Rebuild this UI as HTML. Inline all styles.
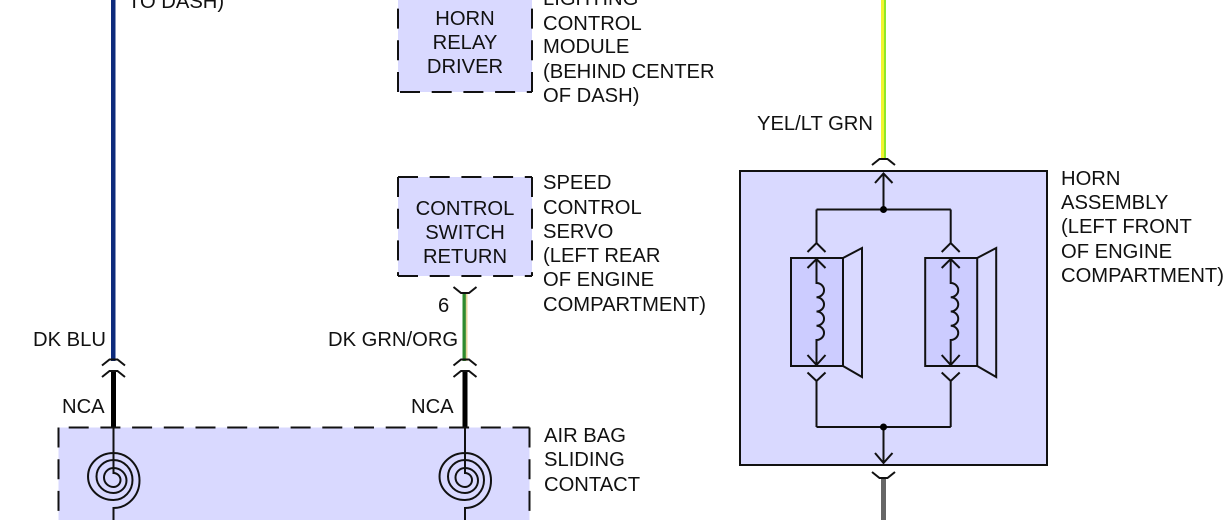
<!DOCTYPE html>
<html><head><meta charset="utf-8"><style>
html,body{margin:0;padding:0;background:#fff;width:1227px;height:520px;overflow:hidden}
svg{display:block}
text{font-family:"Liberation Sans",Arial,sans-serif;font-size:20.2px;fill:#111}
.m{text-anchor:middle}
.l{fill:none;stroke:#111;stroke-width:2}
.d{fill:#d9d9ff;stroke:none}
.e{fill:none;stroke:#111;stroke-width:2;stroke-dasharray:20 11.700}
</style></head><body>
<svg width="1227" height="520" viewBox="0 0 1227 520" xmlns="http://www.w3.org/2000/svg">
<defs>
<g id="c"><path class="l" d="M-11.500 6L-4 0H4L11.500 6"/></g>
<g id="spiral"><path class="l" d="M113.500 427V473A7 7 0 0 1 113.500 487A9.500 9.500 0 0 1 113.500 468A13 12.500 0 0 1 113.500 493A17 16.500 0 0 1 113.500 460A19 20 0 0 1 113.500 500A25.500 23.500 0 0 1 113.500 453A26 27.500 0 0 1 113.500 508V520"/></g>
<g id="spk">
<rect x="791" y="258" width="52" height="108" fill="#ccccff" stroke="#111" stroke-width="2"/>
<path class="l" d="M843 258L862 248V377L843 366"/>
<path class="l" d="M816.500 259V283a7.500 7.100 0 0 1 0 14.250a7.500 7.100 0 0 1 0 14.250a7.500 7.100 0 0 1 0 14.250a7.500 7.100 0 0 1 0 14.250V365M816.500 380V427M816.500 209.500V243M807.500 252L816.500 243L825.500 252M807.500 268L816.500 259L825.500 268M807.500 355L816.500 365L825.500 355M807.500 372.500L816.500 381L825.500 372.500"/>
</g>
</defs>

<!-- wires -->
<rect x="111" y="0" width="4.500" height="361" fill="#0d2b7c"/>
<rect x="111" y="371" width="5" height="56" fill="#000"/>
<rect x="462.500" y="293" width="5" height="68" fill="#2e8b2e"/>
<rect x="465.800" y="293" width="1.700" height="68" fill="#e4d49a"/>
<rect x="462.500" y="371" width="5" height="56" fill="#000"/>
<rect x="881" y="0" width="3" height="160" fill="#f2f530"/>
<rect x="884" y="0" width="2" height="160" fill="#8ee82a"/>
<rect x="881" y="478" width="5" height="42" fill="#666"/>

<!-- connectors -->
<use href="#c" transform="translate(113.500 359.500)"/>
<use href="#c" transform="translate(113.500 371)"/>
<use href="#c" transform="translate(465 359.500)"/>
<use href="#c" transform="translate(465 371)"/>
<use href="#c" transform="translate(465 293) scale(1 -1)"/>
<use href="#c" transform="translate(883.500 159)"/>
<use href="#c" transform="translate(883.500 478) scale(1 -1)"/>

<!-- dashed boxes -->
<rect class="d" x="398" y="-8" width="134" height="100"/>
<path class="e" d="M398 92V-8M532 92V-8"/>
<path class="e" d="M398 92H532" stroke-dashoffset="-2"/>
<rect class="d" x="398" y="177" width="134" height="99"/>
<path class="e" d="M398 177H532M398 276H532M398 177V276M532 177V276"/>
<rect class="d" x="58.500" y="427.500" width="471" height="100"/>
<path class="e" d="M58.500 427.500V530M529.500 427.500V530"/>
<path class="e" d="M58.500 427.500H529.500" stroke-dashoffset="21.500"/>
<use href="#spiral"/>
<use href="#spiral" transform="translate(351.500 0)"/>

<!-- horn assembly -->
<rect x="740" y="171" width="307" height="294" fill="#d9d9ff" stroke="#111" stroke-width="2"/>
<path class="l" d="M883.500 173V209.500M816.500 209.500H950.800M816.500 427H950.800M883.500 427V463M875 183L883.500 173.500L892.500 183M875 453L883.500 463L892.500 453"/>
<circle cx="883.500" cy="209.500" r="3.500" fill="#000"/>
<circle cx="883.500" cy="427" r="3.500" fill="#000"/>
<use href="#spk"/>
<use href="#spk" transform="translate(134.200 0)"/>

<!-- text -->
<text x="128" y="8">TO DASH)</text>
<text class="m" x="465" y="25">HORN</text>
<text class="m" x="465" y="49">RELAY</text>
<text class="m" x="465" y="73">DRIVER</text>
<text x="543" y="5">LIGHTING</text>
<text x="543" y="30">CONTROL</text>
<text x="543" y="53">MODULE</text>
<text x="543" y="78">(BEHIND CENTER</text>
<text x="543" y="102">OF DASH)</text>
<text x="757" y="130">YEL/LT GRN</text>
<text class="m" x="465" y="215">CONTROL</text>
<text class="m" x="465" y="239">SWITCH</text>
<text class="m" x="465" y="263">RETURN</text>
<text x="543" y="189">SPEED</text>
<text x="543" y="214">CONTROL</text>
<text x="543" y="238">SERVO</text>
<text x="543" y="262">(LEFT REAR</text>
<text x="543" y="286">OF ENGINE</text>
<text x="543" y="311">COMPARTMENT)</text>
<text x="438" y="312">6</text>
<text x="328" y="346">DK GRN/ORG</text>
<text x="33" y="346">DK BLU</text>
<text x="62" y="413">NCA</text>
<text x="411" y="413">NCA</text>
<text x="544" y="442">AIR BAG</text>
<text x="544" y="466">SLIDING</text>
<text x="544" y="491">CONTACT</text>
<text x="1061" y="185">HORN</text>
<text x="1061" y="209">ASSEMBLY</text>
<text x="1061" y="233">(LEFT FRONT</text>
<text x="1061" y="258">OF ENGINE</text>
<text x="1061" y="282">COMPARTMENT)</text>
</svg>
</body></html>
